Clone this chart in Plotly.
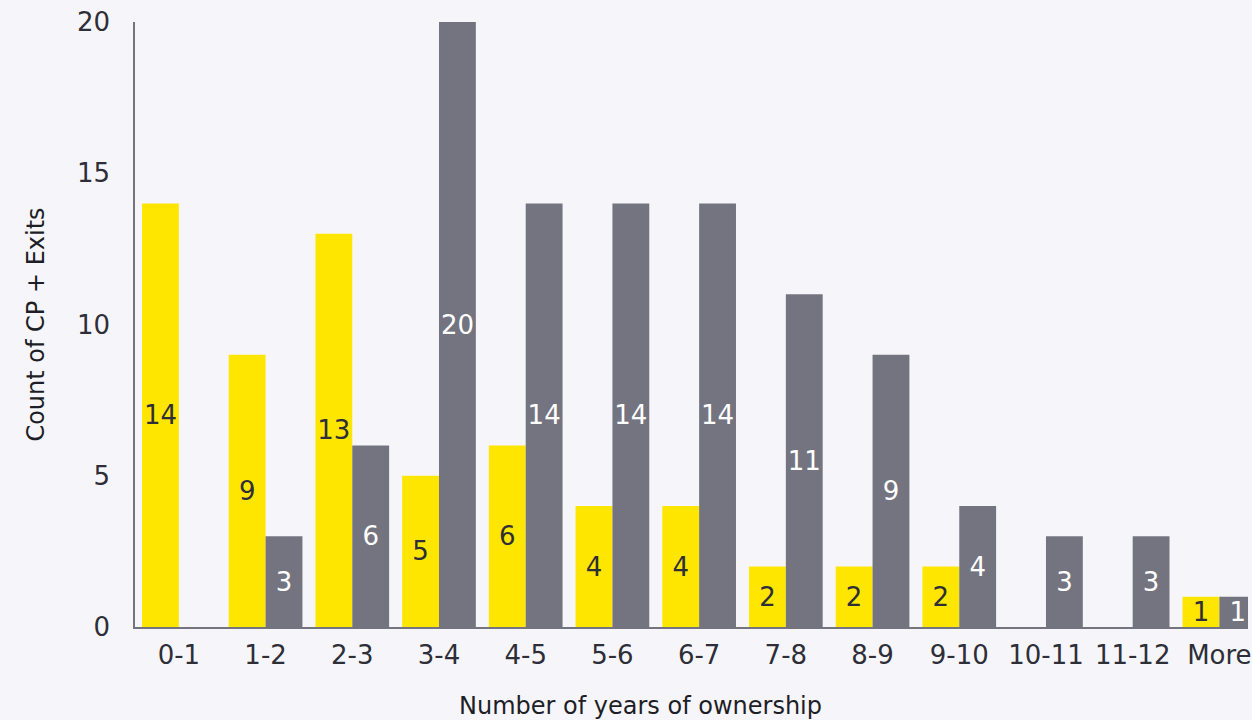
import plotly.graph_objects as go

# Holding-period buckets (years of ownership)
categories = ["0-1", "1-2", "2-3", "3-4", "4-5", "5-6", "6-7", "7-8", "8-9", "9-10", "10-11", "11-12", "More"]
# Count per bucket for the two groups
cp_counts = [14, 9, 13, 5, 6, 4, 4, 2, 2, 2, 0, 0, 1]
exit_counts = [0, 3, 6, 20, 14, 14, 14, 11, 9, 4, 3, 3, 1]
y_ticks = [0, 5, 10, 15, 20]

YELLOW = "#FFE600"
GREY = "#747480"
INK = "#2E2E38"
TITLE_INK = "#1E1E26"
BG = "#F6F6FA"
FONT = "DejaVu Sans"


def labels(values):
    return [str(v) if v else "" for v in values]


fig = go.Figure()
fig.add_trace(go.Bar(
    x=categories, y=cp_counts, name="CP",
    marker=dict(color=YELLOW, line=dict(width=0)),
    text=labels(cp_counts), textposition="inside", insidetextanchor="middle",
    textangle=0, constraintext="none",
    textfont=dict(family=FONT, size=26, color=INK),
))
fig.add_trace(go.Bar(
    x=categories, y=exit_counts, name="Exits",
    marker=dict(color=GREY, line=dict(width=0)),
    text=labels(exit_counts), textposition="inside", insidetextanchor="middle",
    textangle=0, constraintext="none",
    textfont=dict(family=FONT, size=26, color="#FFFFFF"),
))

# x-axis title placed as a paper annotation under the category labels
fig.add_annotation(
    text="Number of years of ownership", showarrow=False,
    xref="paper", yref="paper", x=0.454, y=-0.131,
    xanchor="center", yanchor="middle",
    font=dict(family=FONT, size=24, color=TITLE_INK),
)

fig.update_layout(
    width=1252, height=720,
    margin=dict(l=135, r=0, t=22, b=93),
    paper_bgcolor=BG, plot_bgcolor=BG,
    barmode="group", bargap=0.15, bargroupgap=0,
    showlegend=False,
    font=dict(family=FONT, size=26, color=INK),
    xaxis=dict(
        type="category", range=[-0.506, 12.33],
        showline=True, linecolor=GREY, linewidth=1.5,
        showgrid=False, zeroline=False, ticks="",
        ticklabelstandoff=4,
        tickfont=dict(family=FONT, size=26, color=INK),
    ),
    yaxis=dict(
        range=[0, 20], tickvals=y_ticks,
        showline=True, linecolor=GREY, linewidth=1.5,
        showgrid=False, zeroline=False, ticks="",
        ticklabelstandoff=18,
        tickfont=dict(family=FONT, size=26, color=INK),
        title=dict(text="Count of CP + Exits", standoff=26,
                   font=dict(family=FONT, size=24, color=TITLE_INK)),
    ),
)

fig.write_html("out.html")
